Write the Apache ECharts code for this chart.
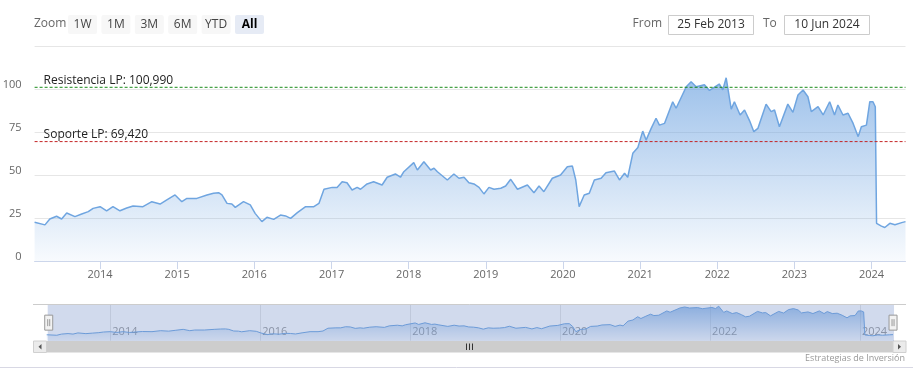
<!DOCTYPE html>
<html>
<head>
<meta charset="utf-8">
<script src="https://cdn.jsdelivr.net/npm/echarts@6/dist/echarts.min.js"></script>
<style>
html, body { margin: 0; padding: 0; background: #fff; }
#chart { width: 913px; height: 378px; }
</style>
</head>
<body>
<div id="chart"></div>
<script>
// datos
var dates = [
  "2013-02-25","2013-04-15","2013-05-08","2013-06-09","2013-07-03","2013-07-27","2013-09-04","2013-10-06","2013-11-06","2013-11-29",
  "2014-01-01","2014-02-01","2014-03-03","2014-04-05","2014-05-07","2014-06-06","2014-07-23","2014-09-03","2014-10-12","2014-11-13","2014-12-22",
  "2015-01-23","2015-02-16","2015-04-04","2015-05-22","2015-06-22","2015-07-16","2015-08-01","2015-08-25","2015-09-17","2015-10-03","2015-11-11","2015-12-13",
  "2016-01-05","2016-02-06","2016-03-01","2016-04-02","2016-05-04","2016-05-28","2016-06-21","2016-07-23","2016-08-31","2016-10-09","2016-11-02","2016-11-26",
  "2017-01-04","2017-01-27","2017-02-20","2017-03-15","2017-04-08","2017-05-02","2017-05-18","2017-06-18","2017-07-19","2017-08-28","2017-09-21","2017-10-30","2017-11-23","2017-12-09",
  "2018-01-25","2018-02-11","2018-03-14","2018-04-15","2018-05-01","2018-05-17","2018-07-03","2018-08-03","2018-08-27","2018-09-20","2018-10-13","2018-11-06","2018-11-30","2018-12-23",
  "2019-01-16","2019-02-09","2019-03-13","2019-04-05","2019-04-29","2019-05-31","2019-07-17","2019-08-17","2019-09-10","2019-10-03","2019-11-12","2019-12-21",
  "2020-01-22","2020-02-15","2020-03-02","2020-03-18","2020-04-11","2020-05-05","2020-05-29","2020-06-30","2020-07-23","2020-09-01","2020-09-25","2020-10-19","2020-11-03","2020-11-27","2020-12-21",
  "2021-01-13","2021-01-29","2021-02-22","2021-03-17","2021-04-02","2021-04-26","2021-06-04","2021-06-20","2021-08-07","2021-08-30","2021-09-23","2021-11-01","2021-11-25",
  "2022-01-10","2022-01-27","2022-02-12","2022-03-08","2022-03-23","2022-04-19","2022-05-10","2022-06-03","2022-06-23","2022-07-12","2022-08-20","2022-09-13","2022-09-29","2022-10-22","2022-12-01","2022-12-25",
  "2023-01-18","2023-02-11","2023-03-06","2023-03-22","2023-04-23","2023-05-17","2023-06-17","2023-07-10","2023-07-26","2023-08-19","2023-09-12","2023-10-06","2023-10-30","2023-11-14","2023-12-08","2023-12-24",
  "2024-01-08","2024-01-19","2024-01-25","2024-02-17","2024-03-04","2024-03-28","2024-04-21","2024-05-23","2024-06-10"
];
var values = [
  22.5,21.0,24.4,26.0,24.4,27.9,25.8,27.3,28.7,30.6,
  31.6,29.2,31.6,29.2,30.8,32.0,31.6,34.5,33.1,35.5,38.4,
  34.5,36.4,36.4,38.4,39.4,39.7,38.4,33.5,33.1,31.2,34.5,32.6,
  27.7,22.9,25.4,24.2,26.7,26.2,24.8,28.1,31.6,31.6,33.5,41.7,
  42.8,42.8,46.1,45.5,41.3,42.8,41.7,44.8,46.1,44.2,48.7,50.6,48.7,51.9,
  57.2,52.9,57.7,52.9,53.9,51.9,47.1,50.6,48.1,48.7,45.5,44.8,42.8,39.0,
  42.8,41.7,42.3,43.6,47.5,41.7,44.2,39.7,43.6,40.3,48.1,50.0,
  54.8,55.2,47.1,31.6,38.4,39.4,47.1,48.1,51.3,52.3,47.1,51.0,48.7,62.6,66.0,
  75.5,70.3,77.1,83.0,79.0,80.0,92.6,88.8,101.3,104.2,101.3,102.5,99.2,
  102.9,99.5,106.5,88.3,92.6,84.9,87.8,81.5,75.2,77.1,91.2,86.8,87.8,78.1,91.2,86.4,
  96.5,99.4,95.5,86.8,89.7,84.9,92.6,84.9,90.7,84.9,85.9,80.0,72.3,78.1,79.0,92.6,
  92.6,89.7,21.9,20.3,19.5,21.9,21.1,22.3,22.9
];
var resistance = 100.99;
var support = 69.42;
var yearTicks = [2014,2015,2016,2017,2018,2019,2020,2021,2022,2023,2024];
var navYearTicks = [2014,2016,2018,2020,2022,2024];
var rangeButtons = ["1W","1M","3M","6M","YTD","All"];
var fromText = "25 Feb 2013";
var toText = "10 Jun 2024";

var FONT = '"Open Sans", "Noto Sans", sans-serif';
function toTs(s) { var p = s.split("-"); return new Date(+p[0], +p[1] - 1, +p[2]).getTime(); }
function yearTs(y) { return new Date(y, 0, 1).getTime(); }
function fmtNum(v) { return v.toFixed(3).replace(".", ","); }
function yearLabel(v) { return String(new Date(v).getFullYear()); }
var seriesData = dates.map(function (d, i) { return [toTs(d), values[i]]; });
var tMin = toTs(dates[0]);
var tMax = toTs(dates[dates.length - 1]);
function areaGrad() {
  return new echarts.graphic.LinearGradient(0, 0, 0, 1, [
    { offset: 0, color: "rgba(108,162,224,0.95)" },
    { offset: 1, color: "rgba(108,162,224,0.07)" }
  ]);
}
// linea horizontal de nivel (resistencia / soporte) de borde a borde del eje
function levelLine(value, name, color) {
  return {
    type: "line", xAxisIndex: 0, yAxisIndex: 0, z: 3, silent: true,
    data: [
      { value: [tMin, value], label: { show: true, formatter: name + ": " + fmtNum(value) } },
      { value: [tMax, value] }
    ],
    symbol: "circle", symbolSize: 0.01, showSymbol: true,
    itemStyle: { color: color },
    lineStyle: { color: color, type: [3, 2], width: 1 },
    label: { show: false, position: "right", distance: 0, offset: [9, -7], color: "#222", fontSize: 12 }
  };
}

// botones y cajas de fecha
var graphics = [
  { type: "text", x: 34, y: 24, style: { text: "Zoom", fill: "#666", font: "12px " + FONT, textVerticalAlign: "middle" } }
];
rangeButtons.forEach(function (b, i) {
  var x = 68 + i * 33.4;
  var sel = b === "All";
  graphics.push({ type: "rect", shape: { x: x, y: 15, width: 29, height: 19, r: 2 }, style: { fill: sel ? "#e6ebf5" : "#f7f7f7" } });
  graphics.push({ type: "text", x: x + 14.5, y: 24.5, style: { text: b, fill: sel ? "#000" : "#444", font: (sel ? "bold " : "") + "12px " + FONT, textAlign: "center", textVerticalAlign: "middle" } });
});
graphics.push(
  { type: "text", x: 662, y: 24, style: { text: "From", fill: "#666", font: "12px " + FONT, textAlign: "right", textVerticalAlign: "middle" } },
  { type: "rect", shape: { x: 668.5, y: 15.5, width: 85, height: 19 }, style: { fill: "#fff", stroke: "#ccc", lineWidth: 1 } },
  { type: "text", x: 711, y: 25, style: { text: fromText, fill: "#333", font: "12px " + FONT, textAlign: "center", textVerticalAlign: "middle" } },
  { type: "text", x: 763, y: 24, style: { text: "To", fill: "#666", font: "12px " + FONT, textVerticalAlign: "middle" } },
  { type: "rect", shape: { x: 784.5, y: 15.5, width: 85, height: 19 }, style: { fill: "#fff", stroke: "#ccc", lineWidth: 1 } },
  { type: "text", x: 827, y: 25, style: { text: toText, fill: "#333", font: "12px " + FONT, textAlign: "center", textVerticalAlign: "middle" } },
  // borde superior del navegador
  { type: "line", shape: { x1: 33, y1: 304.5, x2: 906, y2: 304.5 }, style: { stroke: "#ccc", lineWidth: 1 }, z: 10 },
  // scrollbar
  { type: "rect", shape: { x: 46.5, y: 341, width: 847, height: 11.5 }, style: { fill: "#cdcdcd" } },
  { type: "rect", shape: { x: 33.5, y: 341, width: 13, height: 11.5 }, style: { fill: "#ebebeb", stroke: "#d0d0d0", lineWidth: 1 } },
  { type: "rect", shape: { x: 893, y: 341, width: 13, height: 11.5 }, style: { fill: "#ebebeb", stroke: "#d0d0d0", lineWidth: 1 } },
  { type: "polygon", shape: { points: [[41.5, 344], [41.5, 349.5], [38.5, 346.75]] }, style: { fill: "#555" } },
  { type: "polygon", shape: { points: [[898, 344], [898, 349.5], [901, 346.75]] }, style: { fill: "#555" } },
  { type: "line", shape: { x1: 466.5, y1: 343.5, x2: 466.5, y2: 350 }, style: { stroke: "#333", lineWidth: 1 } },
  { type: "line", shape: { x1: 469.5, y1: 343.5, x2: 469.5, y2: 350 }, style: { stroke: "#333", lineWidth: 1 } },
  { type: "line", shape: { x1: 472.5, y1: 343.5, x2: 472.5, y2: 350 }, style: { stroke: "#333", lineWidth: 1 } },
  // creditos y borde inferior
  { type: "text", x: 905, y: 358, style: { text: "Estrategias de Inversión", fill: "#999", font: "9px " + FONT, textAlign: "right", textVerticalAlign: "middle" } },
  { type: "line", shape: { x1: 0, y1: 367.5, x2: 913, y2: 367.5 }, style: { stroke: "#d8d8e4", lineWidth: 1 } }
);

var option = {
  backgroundColor: "#fff",
  animation: false,
  textStyle: { fontFamily: FONT },
  grid: [
    { left: 34.6, right: 7.5, top: 46, bottom: 117, outerBoundsMode: "none" },
    { left: 46.7, right: 20, top: 304, height: 36.7, outerBoundsMode: "none" }
  ],
  xAxis: [
    {
      type: "value", gridIndex: 0, min: tMin, max: tMax,
      axisLine: { lineStyle: { color: "#ccd6eb" } },
      axisTick: { show: true, length: 8, lineStyle: { color: "#ccd6eb" }, customValues: yearTicks.map(yearTs) },
      axisLabel: {
        color: "#666", fontSize: 11, margin: 8, hideOverlap: false,
        customValues: yearTicks.map(yearTs), formatter: yearLabel
      },
      splitLine: { show: false }
    },
    {
      type: "value", gridIndex: 1, min: tMin, max: tMax,
      axisLine: { show: false },
      axisTick: { show: true, inside: true, length: 36.7, lineStyle: { color: "#e6e6e6" }, customValues: navYearTicks.map(yearTs) },
      axisLabel: {
        inside: true, color: "#999", fontSize: 11, margin: 3, align: "left", padding: [0, 0, 0, 2],
        customValues: navYearTicks.map(yearTs), formatter: yearLabel
      },
      splitLine: { show: false }
    }
  ],
  yAxis: [
    {
      type: "value", gridIndex: 0, min: 0, max: 125, interval: 25,
      axisLine: { show: false }, axisTick: { show: false },
      axisLabel: { color: "#666", fontSize: 11, margin: 13, showMaxLabel: false, verticalAlign: "bottom", lineHeight: 8 },
      splitLine: { lineStyle: { color: "#e6e6e6" } }
    },
    { type: "value", gridIndex: 1, min: 5, max: 113, show: false, splitLine: { show: false } }
  ],
  dataZoom: [
    {
      type: "slider", xAxisIndex: 0, start: 0, end: 100,
      left: 46.7, right: 20, top: 304, height: 36.7,
      showDataShadow: false, showDetail: false, brushSelect: false,
      backgroundColor: "rgba(0,0,0,0)", borderColor: "rgba(0,0,0,0)",
      fillerColor: "rgba(102,133,194,0.3)",
      moveHandleSize: 0,
      handleIcon: "path://M0,0 L8,0 L8,15 L0,15 Z M3,4 L3,11 M5,4 L5,11",
      handleSize: 15,
      handleStyle: { color: "#f2f2f2", borderColor: "#999", borderWidth: 1 }
    }
  ],
  series: [
    {
      type: "line", xAxisIndex: 0, yAxisIndex: 0, data: seriesData,
      showSymbol: false, silent: true,
      lineStyle: { color: "#6fa5e0", width: 1.5 },
      areaStyle: { color: areaGrad() }
    },
    levelLine(resistance, "Resistencia LP", "#1a8c1a"),
    levelLine(support, "Soporte LP", "#c42424"),
    {
      type: "line", xAxisIndex: 1, yAxisIndex: 1, data: seriesData,
      showSymbol: false, silent: true,
      lineStyle: { color: "#6fa5e0", width: 1 },
      areaStyle: { color: areaGrad() }
    }
  ],
  graphic: graphics
};

var chartObj = echarts.init(document.getElementById("chart"));
chartObj.setOption(option);
window.addEventListener("resize", function () { chartObj.resize(); });
</script>
</body>
</html>
